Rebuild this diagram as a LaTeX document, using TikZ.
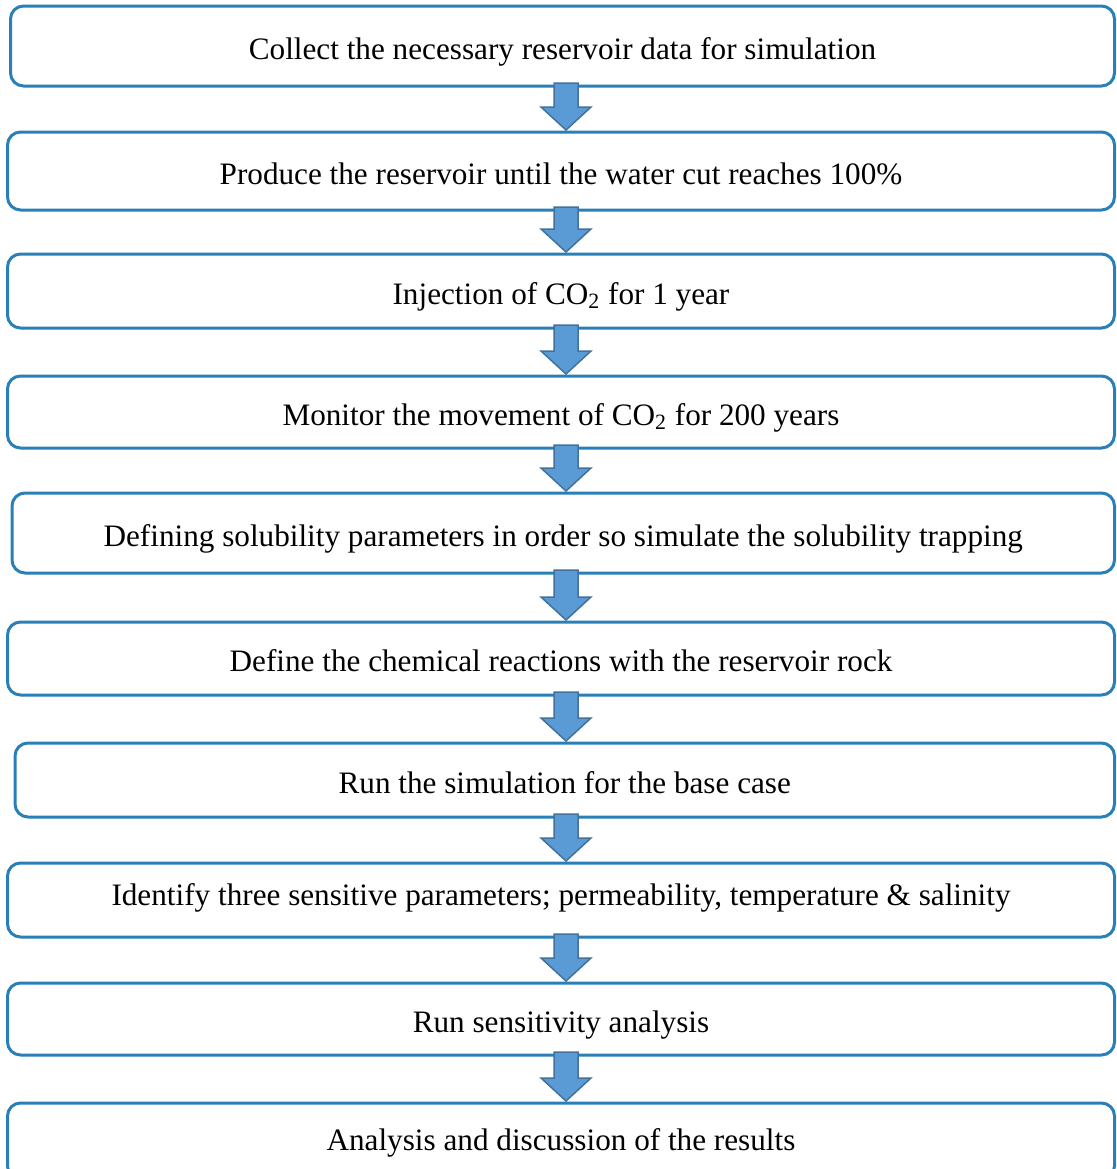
\documentclass[tikz,border=0pt]{standalone}
\usepackage{fontspec}
\setmainfont{Liberation Serif}
\usetikzlibrary{calc}
\definecolor{boxblue}{RGB}{41,128,185}
\definecolor{arrowfill}{RGB}{91,155,213}
\definecolor{arrowedge}{RGB}{65,113,156}

\begin{document}
\begin{tikzpicture}[x=0.5pt, y=-0.5pt]
    \tikzstyle{stepbox} = [draw=boxblue, line width=1.5pt, rounded corners=6.5pt, minimum width=553.5pt, minimum height=37pt, inner sep=0pt, outer sep=0pt, font=\fontsize{15.6}{18}\selectfont, text depth=2pt, text height=15pt, align=center]
    \tikzstyle{blockarrow} = [draw=arrowedge, fill=arrowfill, line width=0.75pt, line join=miter]

    \useasboundingbox (0,0) rectangle (1116,1169);
    \clip (0,0) rectangle (1116,1169);
    \coordinate (axis) at (566,0);

    \node[stepbox, minimum width=552pt, minimum height=40pt] (s1) at (562.5,46) {Collect the necessary reservoir data for simulation};
    \node[stepbox, minimum height=39pt] (s2) at (561,171) {Produce the reservoir until the water cut reaches 100\%};
    \node[stepbox] (s3) at (561,291) {Injection of CO\textsubscript{2} for 1 year};
    \node[stepbox, minimum height=36pt] (s4) at (561,412) {Monitor the movement of CO\textsubscript{2} for 200 years};
    \node[stepbox, minimum width=551.25pt, minimum height=40pt] (s5) at (563.25,533) {Defining solubility parameters in order so simulate the solubility trapping};
    \node[stepbox, minimum height=36.5pt] (s6) at (561,658.5) {Define the chemical reactions with the reservoir rock};
    \node[stepbox, minimum width=549.75pt] (s7) at (564.75,780) {Run the simulation for the base case};
    \node[stepbox, text depth=10pt] (s8) at (561,900) {Identify three sensitive parameters; permeability, temperature \& salinity};
    \node[stepbox, minimum height=36pt] (s9) at (561,1019) {Run sensitivity analysis};
    \node[stepbox, minimum height=38pt, text depth=6pt] (s10) at (561,1141) {Analysis and discussion of the results};

    % block arrows between the steps
    \foreach \a/\b in {s1/s2, s2/s3, s3/s4, s4/s5, s5/s6, s6/s7, s7/s8, s8/s9, s9/s10}
        \draw[blockarrow] ($(\a.south -| axis)+(-12,-3)$) -- ($(\a.south -| axis)+(12,-3)$)
            -- ($(\b.north -| axis)+(12,-25)$) -- ($(\b.north -| axis)+(25,-25)$)
            -- ($(\b.north -| axis)+(0,-2)$) -- ($(\b.north -| axis)+(-25,-25)$)
            -- ($(\b.north -| axis)+(-12,-25)$) -- cycle;
\end{tikzpicture}
\end{document}
